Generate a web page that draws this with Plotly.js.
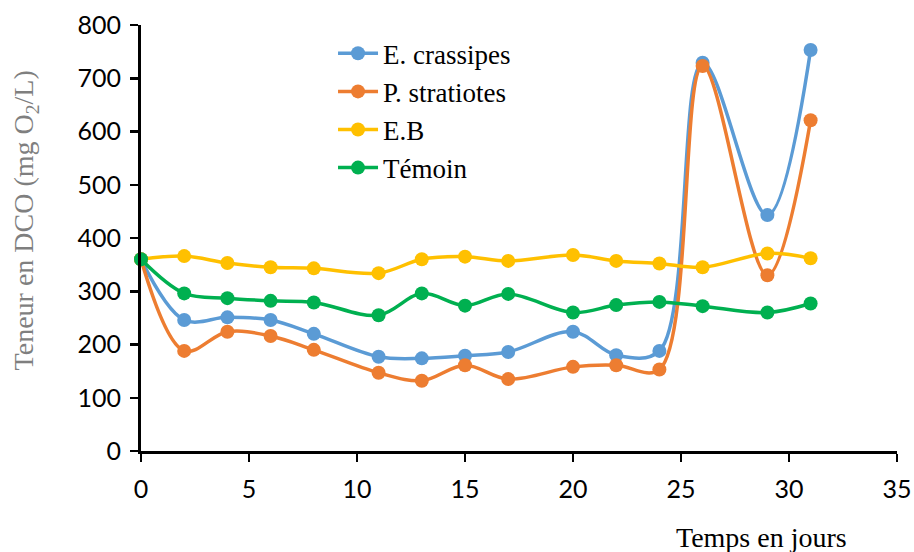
<!DOCTYPE html>
<html>
<head>
<meta charset="utf-8">
<script src="https://cdn.plot.ly/plotly-3.0.1.min.js"></script>
<style>html,body{margin:0;padding:0;background:#fff;}#chart{width:914px;height:552px;}</style>
</head>
<body>
<div id="chart"></div>
<script>
const days = [0, 2, 4, 6, 8, 11, 13, 15, 17, 20, 22, 24, 26, 29, 31];
const eCrassipes = [360, 246, 251, 246, 220, 177, 174, 179, 186, 224, 180, 188, 729, 443, 753];
const pStratiotes = [360, 188, 224, 216, 190, 147, 132, 161, 135, 158, 161, 153, 723, 330, 621];
const eB = [360, 366, 353, 345, 343, 334, 360, 365, 357, 368, 357, 352, 345, 371, 362];
const temoin = [360, 296, 287, 282, 279, 255, 296, 273, 295, 260, 274, 280, 272, 260, 277];
const seriesNames = ['E. crassipes', 'P. stratiotes', 'E.B', 'Témoin'];
const seriesColors = ['#5B9BD5', '#ED7D31', '#FFC000', '#00B050'];
const seriesData = [eCrassipes, pStratiotes, eB, temoin];

const traces = seriesData.map((vals, i) => ({
  x: days, y: vals, name: seriesNames[i], type: 'scatter', mode: 'lines+markers',
  legendgroup: 'g' + i,
  line: {color: seriesColors[i], width: 3.5, shape: 'spline', smoothing: 1},
  marker: {color: seriesColors[i], size: 14},
  cliponaxis: false
}));

const layout = {
  width: 914, height: 552,
  margin: {l: 141, r: 17, t: 25, b: 101},
  paper_bgcolor: '#fff', plot_bgcolor: '#fff',
  showlegend: true,
  legend: {x: 0.254, y: 0.99, xanchor: 'left', yanchor: 'top', bgcolor: 'rgba(0,0,0,0)',
    font: {family: 'Liberation Serif', size: 27, color: '#000'}, tracegroupgap: 0, itemwidth: 40},
  xaxis: {range: [0, 35], dtick: 5, showgrid: false, zeroline: false, showline: true,
    linecolor: '#000', linewidth: 3, ticks: 'outside', ticklen: 8, tickwidth: 2.5, tickcolor: '#000',
    ticklabelstandoff: 6,
    tickfont: {family: 'Lato', size: 25, color: '#000'}},
  yaxis: {range: [0, 800], dtick: 100, showgrid: false, zeroline: false, showline: true,
    linecolor: '#000', linewidth: 3, ticks: 'outside', ticklen: 8, tickwidth: 2.5, tickcolor: '#000',
    ticklabelstandoff: 4,
    tickfont: {family: 'Lato', size: 25, color: '#000'}},
  annotations: [
    {text: 'Teneur en DCO (mg O<sub>2</sub>/L)', xref: 'paper', yref: 'paper', x: -0.153, y: 0.542,
      textangle: -90, showarrow: false, xanchor: 'center', yanchor: 'middle',
      font: {family: 'Liberation Serif', size: 28, color: '#7F7F7F'}},
    {text: 'Temps en jours', xref: 'paper', yref: 'paper', x: 0.821, y: -0.202,
      showarrow: false, xanchor: 'center', yanchor: 'middle',
      font: {family: 'Liberation Serif', size: 28, color: '#000'}}
  ]
};
Plotly.newPlot('chart', traces, layout, {displayModeBar: false, staticPlot: true});
</script>
</body>
</html>
